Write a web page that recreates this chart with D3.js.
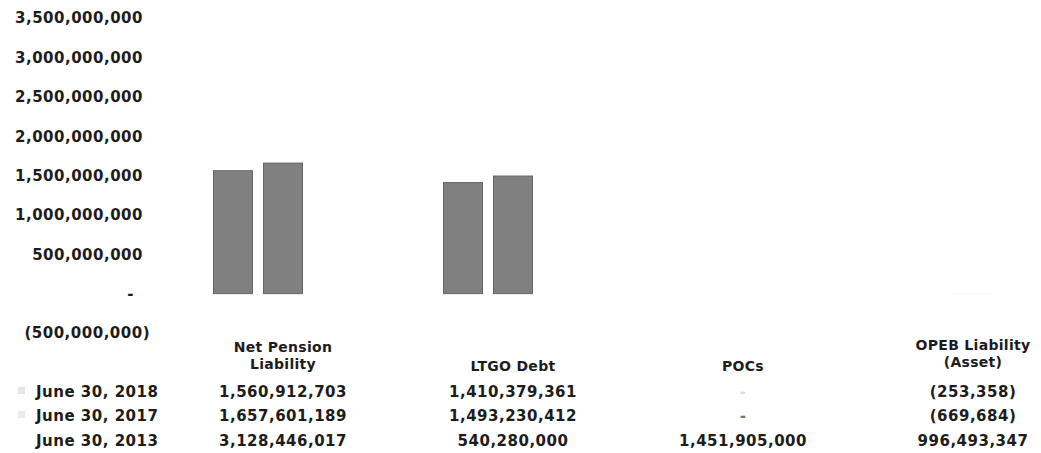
<!DOCTYPE html>
<html>
<head>
<meta charset="utf-8">
<script src="https://cdn.jsdelivr.net/npm/d3@7"></script>
<style>
  body { margin: 0; background: #fff; }
  text { font-family: "DejaVu Sans", Verdana, sans-serif; font-weight: bold; fill: #1c1c1c; }
</style>
</head>
<body>
<svg id="chart"></svg>
<script>
// categories and series
const categories = ["Net Pension Liability", "LTGO Debt", "POCs", "OPEB Liability (Asset)"];
const categoryLines = [["Net Pension", "Liability"], ["LTGO Debt"], ["POCs"], ["OPEB Liability", "(Asset)"]];
const seriesNames = ["June 30, 2018", "June 30, 2017", "June 30, 2013"];
const values2018 = [1560912703, 1410379361, 0, -253358];
const values2017 = [1657601189, 1493230412, 0, -669684];
const values2013 = [3128446017, 540280000, 1451905000, 996493347];
const yTicks = [-500000000, 0, 500000000, 1000000000, 1500000000, 2000000000, 2500000000, 3000000000, 3500000000];

const width = 1041;
const height = 453;

const svg = d3.select("#chart")
    .attr("width", width)
    .attr("height", height);

const seriesValues = [values2018, values2017, values2013];
// 2013 bars are not visible in the scan, so they are drawn white
const seriesFill = ["#808080", "#808080", "#ffffff"];
const seriesStroke = ["#666", "#666", "#ffffff"];
const keyFill = ["#e6e6e6", "#ebebeb", "#ffffff"];

const x0 = d3.scaleBand()
    .domain(categories)
    .range([168, 1088]);

const x1 = d3.scaleBand()
    .domain(seriesNames)
    .range([40, 190])
    .paddingInner(0.22)
    .paddingOuter(0.11);

const y = d3.scaleLinear()
    .domain([-500000000, 3500000000])
    .range([333, 18]);

// y axis labels (accounting style, no line)
const fmt = d3.format(",");
const acct = v => v === 0 ? "-" : (v < 0 ? `(${fmt(-v)})` : fmt(v));

svg.append("g").selectAll("text")
    .data(yTicks)
    .join("text")
    .attr("x", d => d < 0 ? 150 : (d === 0 ? 134 : 143))
    .attr("y", d => y(d))
    .attr("dy", "0.36em")
    .attr("text-anchor", "end")
    .style("font-size", "15px")
    .style("letter-spacing", "0.5px")
    .text(acct);

// bars
const groups = svg.append("g").selectAll("g")
    .data(categories)
    .join("g")
    .attr("transform", d => `translate(${x0(d)},0)`);

groups.selectAll("rect")
    .data((d, i) => seriesNames.map((s, j) => ({ s, j, v: seriesValues[j][i] })))
    .join("rect")
    .attr("x", d => x1(d.s))
    .attr("width", x1.bandwidth())
    .attr("y", d => y(Math.max(0, d.v)))
    .attr("height", d => Math.abs(y(d.v) - y(0)))
    .attr("fill", d => seriesFill[d.j])
    .attr("stroke", d => Math.abs(y(d.v) - y(0)) < 1 ? "none" : seriesStroke[d.j])
    .attr("stroke-width", 1);

// category headers of the data table
const header = svg.append("g");
categories.forEach((c, i) => {
    const lines = categoryLines[i];
    const cx = x0(c) + x0.bandwidth() / 2;
    const top = lines.length === 2 ? (i === 3 ? 350 : 352) : 371;
    lines.forEach((ln, k) => {
        header.append("text")
            .attr("x", cx)
            .attr("y", top + k * 17)
            .attr("text-anchor", "middle")
            .style("font-size", "14px")
            .style("letter-spacing", "0.3px")
            .text(ln);
    });
});

// data table rows
const rowY = [397, 421, 446];
seriesNames.forEach((s, j) => {
    const row = svg.append("g");
    row.append("rect")
        .attr("x", 18)
        .attr("y", rowY[j] - 10)
        .attr("width", 7)
        .attr("height", 7)
        .attr("fill", keyFill[j]);
    row.append("text")
        .attr("x", 36)
        .attr("y", rowY[j])
        .style("font-size", "15px")
        .style("letter-spacing", "0.5px")
        .text(s);
    categories.forEach((c, i) => {
        const v = seriesValues[j][i];
        row.append("text")
            .attr("x", x0(c) + x0.bandwidth() / 2)
            .attr("y", rowY[j])
            .attr("text-anchor", "middle")
            .style("font-size", "15px")
            .style("letter-spacing", "0.5px")
            .style("fill", v === 0 ? (j === 0 ? "#ddd" : "#777") : null)
            .text(acct(v));
    });
});
</script>
</body>
</html>
